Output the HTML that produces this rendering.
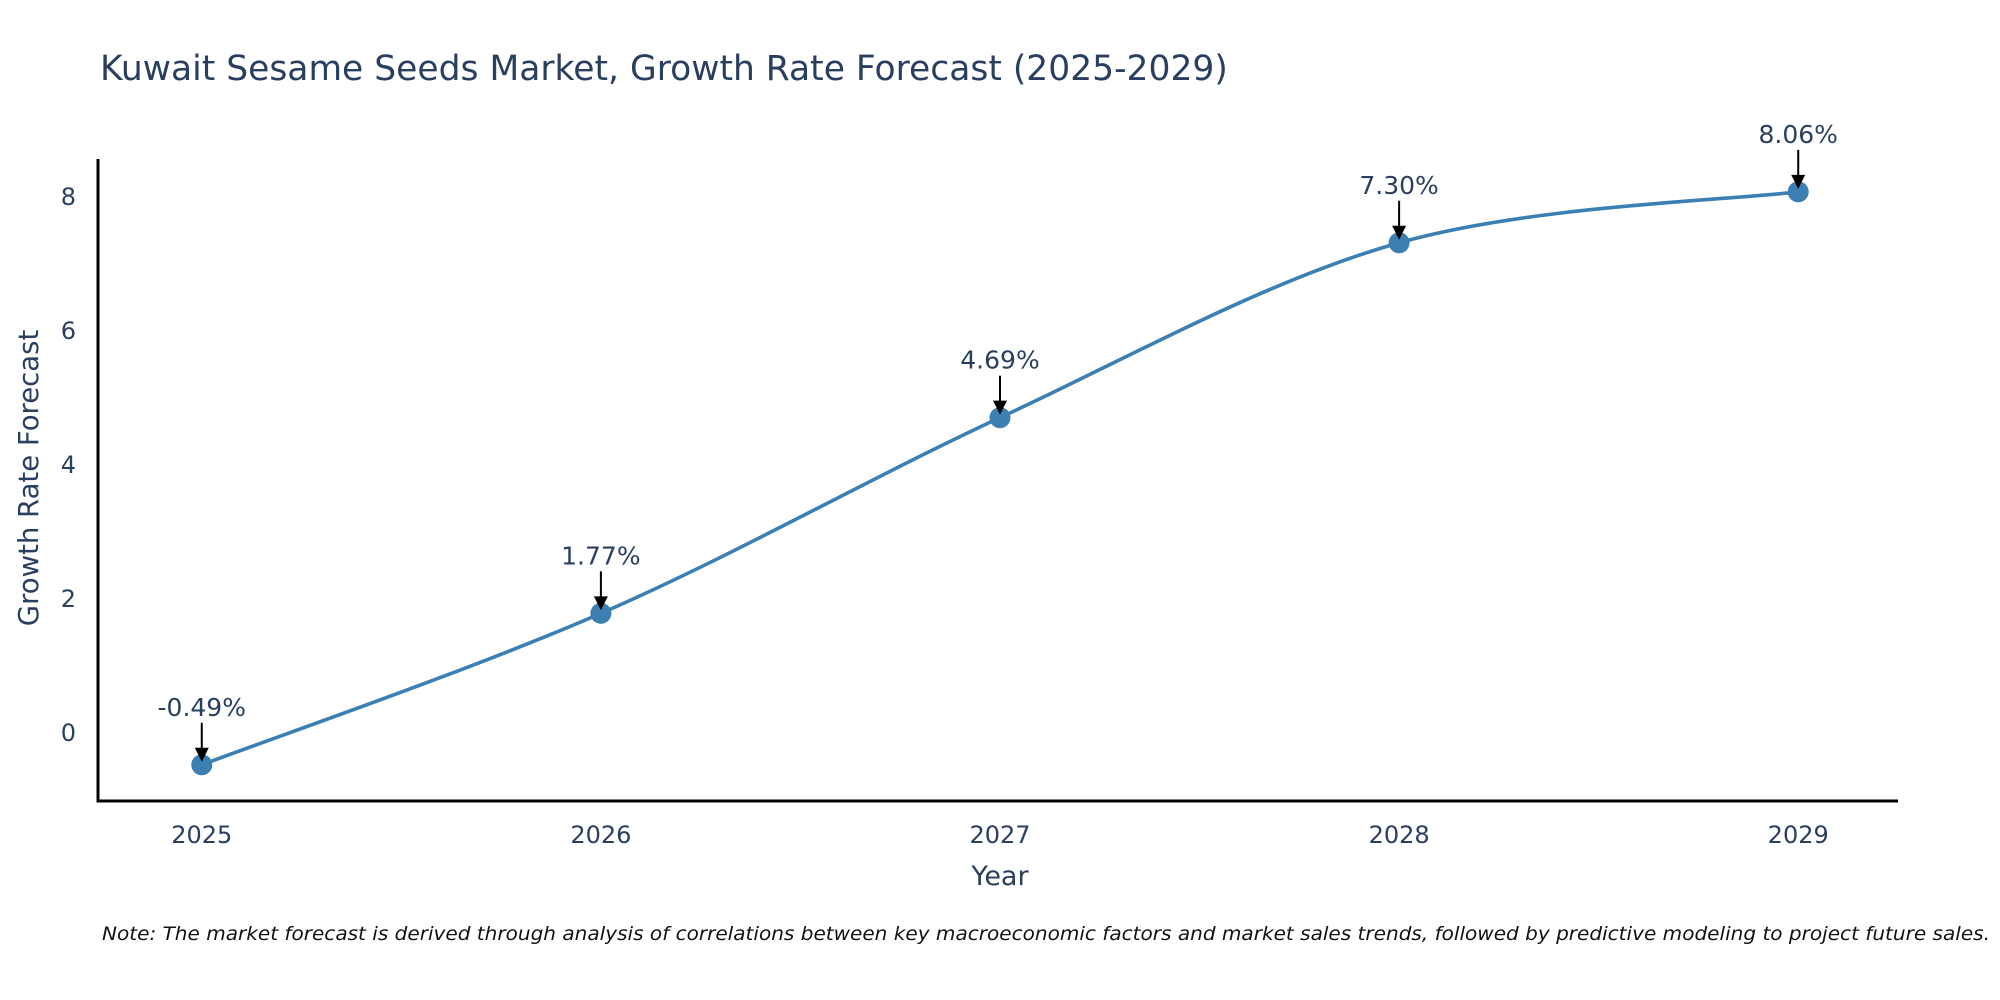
<!DOCTYPE html>
<html><head><meta charset="utf-8"><style>
html,body{margin:0;padding:0;background:#fff;}
svg{display:block;font-family:"DejaVu Sans","Liberation Sans",sans-serif;}
</style></head><body>
<svg id="chart" width="2000" height="1000" viewBox="0 0 2000 1000">
<text x="100" y="80" font-size="34.5" fill="#2a3f5f">Kuwait Sesame Seeds Market, Growth Rate Forecast (2025-2029)</text>
<g id="plot"></g>
<text x="1000" y="885" font-size="27" fill="#2a3f5f" text-anchor="middle">Year</text>
<text transform="translate(38,478) rotate(-90)" font-size="27.5" fill="#2a3f5f" text-anchor="middle">Growth Rate Forecast</text>
<text x="102" y="940" font-size="19" font-style="italic" fill="#111" textLength="1888" lengthAdjust="spacingAndGlyphs">Note: The market forecast is derived through analysis of correlations between key macroeconomic factors and market sales trends, followed by predictive modeling to project future sales.</text>
</svg>
<script>
const years = [2025, 2026, 2027, 2028, 2029];
const growth = [-0.49, 1.77, 4.69, 7.30, 8.06];
const labels = ["-0.49%", "1.77%", "4.69%", "7.30%", "8.06%"];
const yTicks = [0, 2, 4, 6, 8];

const NS = "http://www.w3.org/2000/svg";
const g = document.getElementById("plot");
const L = 98, R = 1898, T = 159, B = 801;
const xMin = 2024.74, xMax = 2029.25, yMin = -1.03, yMax = 8.55;
const xs = v => L + (v - xMin) / (xMax - xMin) * (R - L);
const ys = v => B - (v - yMin) / (yMax - yMin) * (B - T);
function mk(tag, attrs, parent) {
  const e = document.createElementNS(NS, tag);
  for (const k in attrs) e.setAttribute(k, attrs[k]);
  (parent || g).appendChild(e);
  return e;
}
const ya = mk("line", {x1: L, y1: T, x2: L, y2: B + 1.5, stroke: "#000", "stroke-width": 3});


const xa = mk("line", {x1: L - 1.5, y1: B, x2: R, y2: B, stroke: "#000", "stroke-width": 3});


yTicks.forEach(t => {
  const e = mk("text", {x: L - 22, y: ys(t) + 9, "font-size": 24, fill: "#2a3f5f", "text-anchor": "end"});
  e.textContent = t;
  
  
});
years.forEach(y => {
  const e = mk("text", {x: xs(y), y: B + 42, "font-size": 24, fill: "#2a3f5f", "text-anchor": "middle"});
  e.textContent = y;
  
  
});
const pts = years.map((y, i) => [xs(y), ys(growth[i])]);
let d = "M" + pts[0][0] + "," + pts[0][1];
const tk = 0.5;
for (let i = 0; i < pts.length - 1; i++) {
  const p0 = pts[Math.max(0, i - 1)], p1 = pts[i], p2 = pts[i + 1], p3 = pts[Math.min(pts.length - 1, i + 2)];
  const c1 = [p1[0] + (p2[0] - p0[0]) * tk / 3, p1[1] + (p2[1] - p0[1]) * tk / 3];
  const c2 = [p2[0] - (p3[0] - p1[0]) * tk / 3, p2[1] - (p3[1] - p1[1]) * tk / 3];
  d += " C" + c1[0] + "," + c1[1] + " " + c2[0] + "," + c2[1] + " " + p2[0] + "," + p2[1];
}
const line = mk("path", {d: d, fill: "none", stroke: "#3b7fb3", "stroke-width": 3.6});


pts.forEach((p, i) => {
  const c = mk("circle", {cx: p[0], cy: p[1], r: 10.5, fill: "#3b7fb3"});
  
  
  const a = mk("line", {x1: p[0], y1: p[1] - 42, x2: p[0], y2: p[1] - 14, stroke: "#000", "stroke-width": 2});
  
  
  const h = mk("polygon", {points: (p[0] - 7) + "," + (p[1] - 17) + " " + (p[0] + 7) + "," + (p[1] - 17) + " " + p[0] + "," + (p[1] - 3), fill: "#000"});
  
  
  const t = mk("text", {x: p[0], y: p[1] - 49, "font-size": 25, fill: "#2a3f5f", "text-anchor": "middle"});
  t.textContent = labels[i];
  
  
});
</script>
</body></html>
